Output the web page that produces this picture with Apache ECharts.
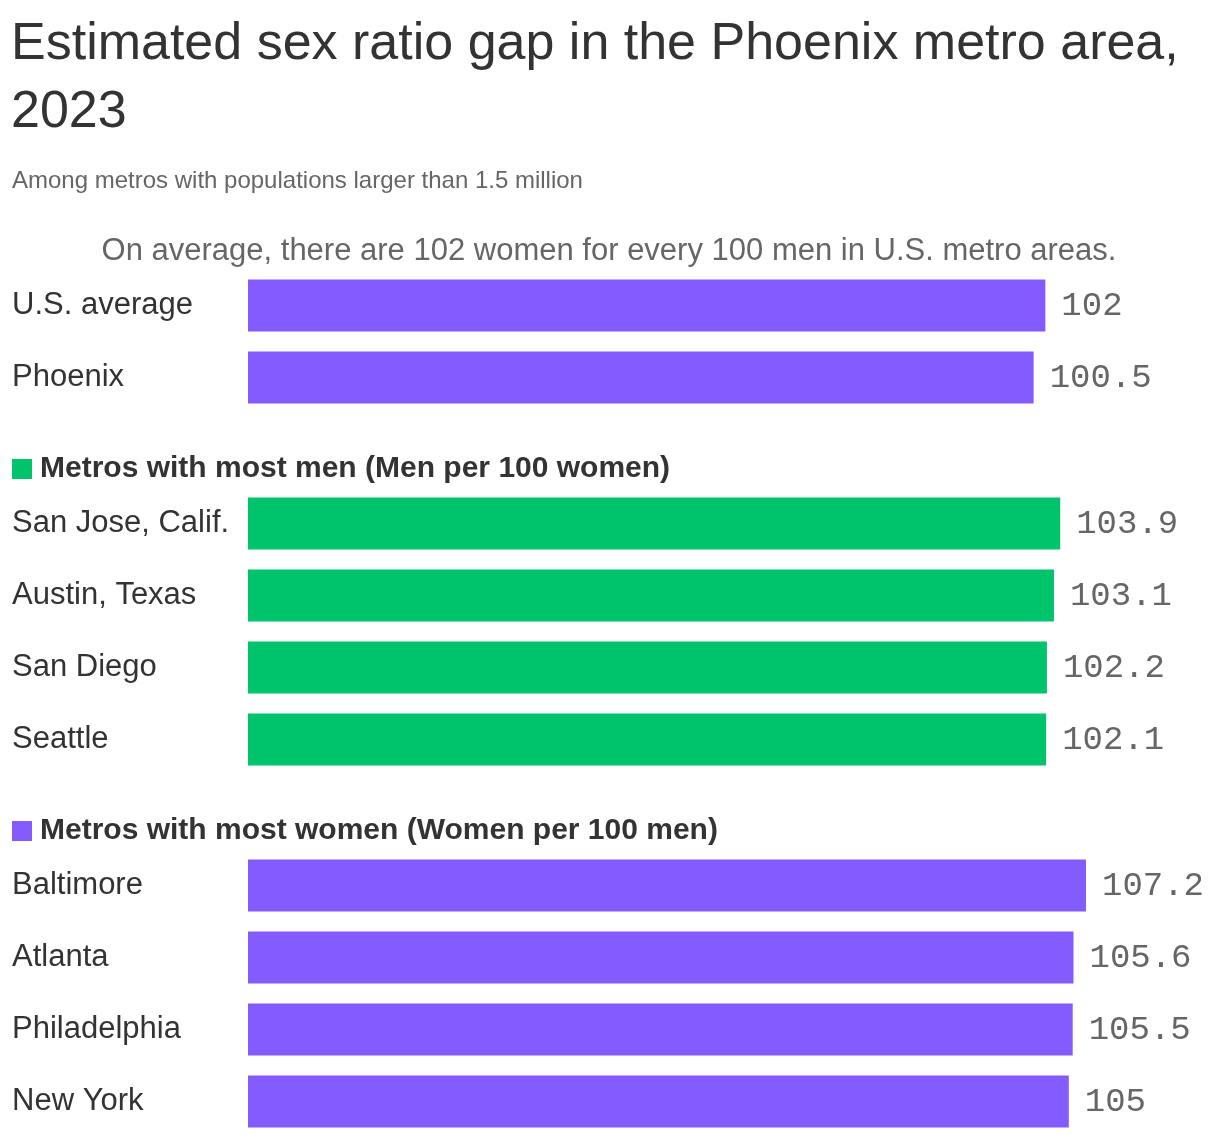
<!DOCTYPE html>
<html>
<head>
<meta charset="utf-8">
<script src="https://cdn.jsdelivr.net/npm/echarts@6/dist/echarts.min.js"></script>
<style>
html,body{margin:0;padding:0;background:#fff;}
#chart{width:1220px;height:1138px;}
</style>
</head>
<body>
<div id="chart"></div>
<script>
// ---- data ----
const avgCategories = ['U.S. average', 'Phoenix'];
const avgValues = [102, 100.5];
const menCategories = ['San Jose, Calif.', 'Austin, Texas', 'San Diego', 'Seattle'];
const menValues = [103.9, 103.1, 102.2, 102.1];
const womenCategories = ['Baltimore', 'Atlanta', 'Philadelphia', 'New York'];
const womenValues = [107.2, 105.6, 105.5, 105];

const titleText = 'Estimated sex ratio gap in the Phoenix metro area,\n2023';
const subtitleText = 'Among metros with populations larger than 1.5 million';
const noteText = 'On average, there are 102 women for every 100 men in U.S. metro areas.';
const menHeader = 'Metros with most men (Men per 100 women)';
const womenHeader = 'Metros with most women (Women per 100 men)';

// ---- styles ----
const PURPLE = '#845bfe';
const GREEN = '#00c46b';
const SANS = '"Liberation Sans", Arial, sans-serif';
const MONO = '"Liberation Mono", "DejaVu Sans Mono", monospace';
const XMAX = 107.2;

const chart = echarts.init(document.getElementById('chart'), null, {renderer: 'canvas'});

const grids = [
  {left: 248, right: 134, top: 269.5, height: 144},
  {left: 248, right: 134, top: 487.5, height: 288},
  {left: 248, right: 134, top: 849.5, height: 288}
];
const cats = [avgCategories, menCategories, womenCategories];
const vals = [avgValues, menValues, womenValues];
const colors = [PURPLE, GREEN, PURPLE];

const option = {
  backgroundColor: '#ffffff',
  animation: false,
  title: {
    text: titleText,
    left: 11,
    top: 11,
    padding: 0,
    textStyle: {fontFamily: SANS, fontSize: 52, fontWeight: 'normal', color: '#333333', lineHeight: 68}
  },
  grid: grids,
  xAxis: grids.map((g, i) => ({
    type: 'value', gridIndex: i, min: 0, max: XMAX, show: false
  })),
  yAxis: grids.map((g, i) => ({
    type: 'category', gridIndex: i, data: cats[i], inverse: true,
    axisLine: {show: false}, axisTick: {show: false}, splitLine: {show: false},
    axisLabel: {
      align: 'left', margin: 236, fontFamily: SANS, fontSize: 31, color: '#333333'
    }
  })),
  series: vals.map((v, i) => ({
    type: 'bar', xAxisIndex: i, yAxisIndex: i, data: v, barWidth: 52,
    itemStyle: {color: colors[i]},
    label: {
      show: true, position: 'right', distance: 16,
      fontFamily: MONO, fontSize: 34, color: '#666666'
    }
  })),
  graphic: [
    {type: 'text', x: 12, y: 181,
     style: {text: subtitleText, font: '24px ' + SANS, fill: '#666666', textVerticalAlign: 'middle'}},
    {type: 'text', x: 609, y: 251,
     style: {text: noteText, font: '31px ' + SANS, fill: '#666666', textAlign: 'center', textVerticalAlign: 'middle'}},
    {type: 'rect', shape: {x: 12, y: 459, width: 20, height: 20}, style: {fill: GREEN}},
    {type: 'text', x: 40, y: 469,
     style: {text: menHeader, font: 'bold 30px ' + SANS, fill: '#333333', textVerticalAlign: 'middle'}},
    {type: 'rect', shape: {x: 12, y: 821, width: 20, height: 20}, style: {fill: PURPLE}},
    {type: 'text', x: 40, y: 831,
     style: {text: womenHeader, font: 'bold 30px ' + SANS, fill: '#333333', textVerticalAlign: 'middle'}}
  ]
};
chart.setOption(option);
</script>
</body>
</html>
